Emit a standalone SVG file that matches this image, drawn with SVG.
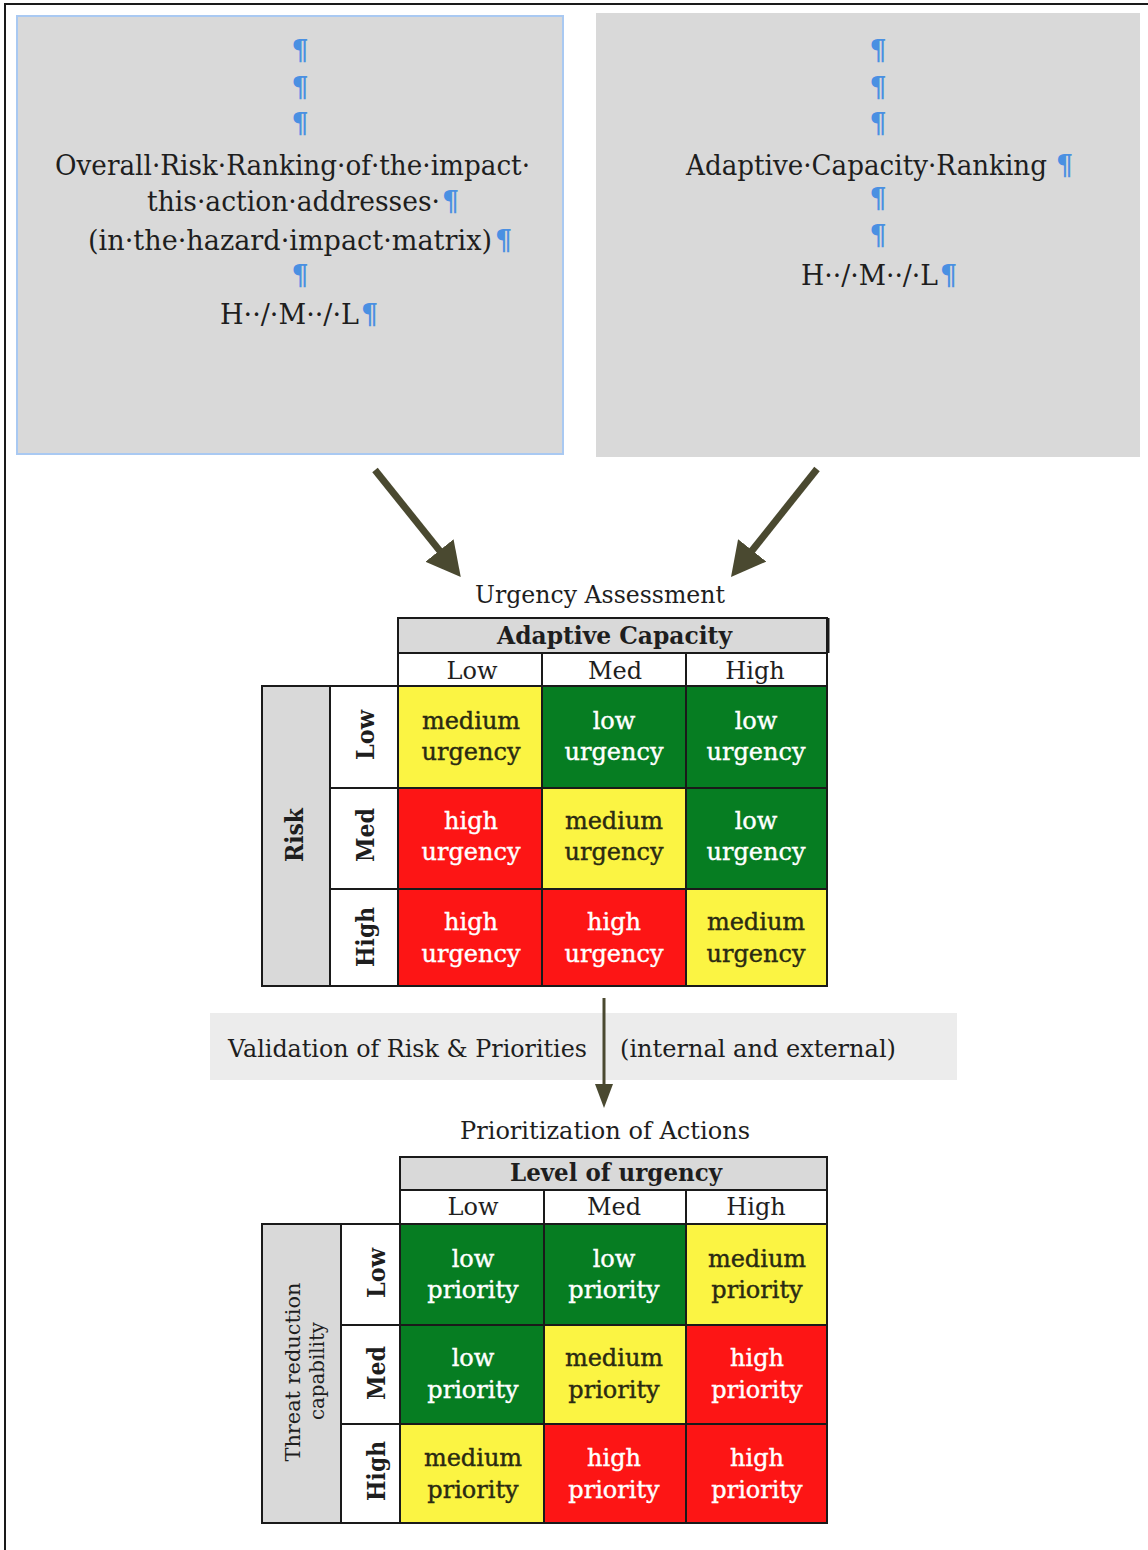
<svg xmlns="http://www.w3.org/2000/svg" width="1148" height="1550" viewBox="0 0 1148 1550">
<style>
.t{font-family:"DejaVu Serif","Liberation Serif",serif;fill:#1e1e1e}
.m{text-anchor:middle}
.pil{fill:#4a90e2;font-weight:bold}
.b{font-weight:bold}
.hd{fill:#d9d9d9;stroke:#1a1a1a;stroke-width:2}
.wh{fill:#fff;stroke:#1a1a1a;stroke-width:2}
.y{fill:#fbf443;stroke:#1a1a1a;stroke-width:2}
.g{fill:#067d22;stroke:#1a1a1a;stroke-width:2}
.r{fill:#fd1515;stroke:#1a1a1a;stroke-width:2}
.ct{font-family:"DejaVu Serif","Liberation Serif",serif;font-size:24px;text-anchor:middle;stroke-width:0.4}
.w{fill:#fff;stroke:#fff}
.d{fill:#2a2a12;stroke:#2a2a12}
.box{font-size:27px}
.arrow{stroke:#4a4930;fill:none}
</style>
<defs>
<marker id="bighead" markerUnits="userSpaceOnUse" viewBox="0 0 34 36" markerWidth="34" markerHeight="36" refX="4" refY="18" orient="auto">
<path d="M0,0 L34,18 L0,36 z" fill="#4a4930"/>
</marker>
<marker id="smallhead" markerUnits="userSpaceOnUse" viewBox="0 0 24 18" markerWidth="24" markerHeight="18" refX="2" refY="9" orient="auto">
<path d="M0,0 L24,9 L0,18 z" fill="#4a4930"/>
</marker>
</defs>
<rect x="0" y="0" width="1148" height="1550" fill="#fff"/>
<rect x="5" y="4" width="1170" height="1570" fill="none" stroke="#1a1a1a" stroke-width="2"/>

<g id="box-risk">
<rect x="17" y="16" width="546" height="438" fill="#d9d9d9" stroke="#a9c9f2" stroke-width="2"/>
<text class="t m box pil" x="300" y="60">¶</text>
<text class="t m box pil" x="300" y="97">¶</text>
<text class="t m box pil" x="300" y="133">¶</text>
<text class="t box" x="55" y="175" textLength="475" lengthAdjust="spacingAndGlyphs">Overall·Risk·Ranking·of·the·impact·</text>
<text class="t box" x="147" y="211" textLength="293" lengthAdjust="spacingAndGlyphs">this·action·addresses·</text>
<text class="t box pil" x="442" y="211">¶</text>
<text class="t box" x="88" y="250" textLength="404" lengthAdjust="spacingAndGlyphs">(in·the·hazard·impact·matrix)</text>
<text class="t box pil" x="495" y="250">¶</text>
<text class="t m box pil" x="300" y="285">¶</text>
<text class="t box" x="220" y="324" textLength="139" lengthAdjust="spacingAndGlyphs">H··/·M··/·L</text>
<text class="t box pil" x="361" y="324">¶</text>
</g>

<g id="box-adaptive">
<rect x="596" y="13" width="544" height="444" fill="#d9d9d9"/>
<text class="t m box pil" x="878" y="60">¶</text>
<text class="t m box pil" x="878" y="97">¶</text>
<text class="t m box pil" x="878" y="133">¶</text>
<text class="t box" x="686" y="175" textLength="361" lengthAdjust="spacingAndGlyphs">Adaptive·Capacity·Ranking</text>
<text class="t box pil" x="1056" y="175">¶</text>
<text class="t m box pil" x="878" y="208">¶</text>
<text class="t m box pil" x="878" y="245">¶</text>
<text class="t box" x="801" y="285" textLength="137" lengthAdjust="spacingAndGlyphs">H··/·M··/·L</text>
<text class="t box pil" x="940" y="285">¶</text>
</g>

<g id="label-urgency">
<text class="t" x="475" y="603" font-size="25" textLength="250" lengthAdjust="spacingAndGlyphs">Urgency Assessment</text>
</g>

<g id="table-urgency">
<rect class="hd" x="398" y="618" width="429" height="35"/>
<line x1="828" y1="618" x2="828" y2="653" stroke="#1a1a1a" stroke-width="3"/>
<text class="t b" x="497" y="644" font-size="25" textLength="235" lengthAdjust="spacingAndGlyphs">Adaptive Capacity</text>
<rect class="wh" x="398" y="653" width="144" height="33"/>
<rect class="wh" x="542" y="653" width="144" height="33"/>
<rect class="wh" x="686" y="653" width="141" height="33"/>
<text class="t m" x="472" y="679" font-size="24">Low</text>
<text class="t m" x="615" y="679" font-size="24">Med</text>
<text class="t m" x="755" y="679" font-size="24">High</text>
<rect class="hd" x="262" y="686" width="68" height="300"/>
<text class="t b m" transform="translate(0,835) rotate(-90)" x="0" y="303" font-size="24" textLength="54" lengthAdjust="spacingAndGlyphs">Risk</text>
<rect class="wh" x="330" y="686" width="68" height="102"/>
<rect class="wh" x="330" y="788" width="68" height="101"/>
<rect class="wh" x="330" y="889" width="68" height="97"/>
<text class="t b m" transform="translate(0,735) rotate(-90)" x="0" y="374" font-size="25" textLength="50" lengthAdjust="spacingAndGlyphs">Low</text>
<text class="t b m" transform="translate(0,835) rotate(-90)" x="0" y="374" font-size="25" textLength="54" lengthAdjust="spacingAndGlyphs">Med</text>
<text class="t b m" transform="translate(0,937) rotate(-90)" x="0" y="374" font-size="25" textLength="60" lengthAdjust="spacingAndGlyphs">High</text>
<rect class="y" x="398" y="686" width="144" height="102"/>
<rect class="g" x="542" y="686" width="144" height="102"/>
<rect class="g" x="686" y="686" width="141" height="102"/>
<rect class="r" x="398" y="788" width="144" height="101"/>
<rect class="y" x="542" y="788" width="144" height="101"/>
<rect class="g" x="686" y="788" width="141" height="101"/>
<rect class="r" x="398" y="889" width="144" height="97"/>
<rect class="r" x="542" y="889" width="144" height="97"/>
<rect class="y" x="686" y="889" width="141" height="97"/>
<text class="ct d" x="471" y="729">medium</text><text class="ct d" x="471" y="760">urgency</text>
<text class="ct w" x="614" y="729">low</text><text class="ct w" x="614" y="760">urgency</text>
<text class="ct w" x="756" y="729">low</text><text class="ct w" x="756" y="760">urgency</text>
<text class="ct w" x="471" y="829">high</text><text class="ct w" x="471" y="860">urgency</text>
<text class="ct d" x="614" y="829">medium</text><text class="ct d" x="614" y="860">urgency</text>
<text class="ct w" x="756" y="829">low</text><text class="ct w" x="756" y="860">urgency</text>
<text class="ct w" x="471" y="930">high</text><text class="ct w" x="471" y="962">urgency</text>
<text class="ct w" x="614" y="930">high</text><text class="ct w" x="614" y="962">urgency</text>
<text class="ct d" x="756" y="930">medium</text><text class="ct d" x="756" y="962">urgency</text>
</g>

<g id="band-validation">
<rect x="210" y="1013" width="747" height="67" fill="#ececec"/>
<text class="t" x="228" y="1057" font-size="25" textLength="359" lengthAdjust="spacingAndGlyphs">Validation of Risk &amp; Priorities</text>
<text class="t" x="620" y="1057" font-size="25" textLength="276" lengthAdjust="spacingAndGlyphs">(internal and external)</text>
</g>

<g id="label-prioritization">
<text class="t" x="460" y="1139" font-size="25" textLength="290" lengthAdjust="spacingAndGlyphs">Prioritization of Actions</text>
</g>

<g id="table-priority">
<rect class="hd" x="400" y="1157" width="427" height="33"/>
<text class="t b" x="510" y="1181" font-size="25" textLength="212" lengthAdjust="spacingAndGlyphs">Level of urgency</text>
<rect class="wh" x="400" y="1190" width="144" height="34"/>
<rect class="wh" x="544" y="1190" width="142" height="34"/>
<rect class="wh" x="686" y="1190" width="141" height="34"/>
<text class="t m" x="473" y="1215" font-size="24">Low</text>
<text class="t m" x="614" y="1215" font-size="24">Med</text>
<text class="t m" x="756" y="1215" font-size="24">High</text>
<rect class="hd" x="262" y="1224" width="79" height="299"/>
<text class="t m" transform="translate(0,1372) rotate(-90)" x="0" y="300" font-size="21" fill="#3a3a3a" textLength="179" lengthAdjust="spacingAndGlyphs">Threat reduction</text>
<text class="t m" transform="translate(0,1371) rotate(-90)" x="0" y="324" font-size="21" fill="#3a3a3a" textLength="98" lengthAdjust="spacingAndGlyphs">capability</text>
<rect class="wh" x="341" y="1224" width="59" height="101"/>
<rect class="wh" x="341" y="1325" width="59" height="99"/>
<rect class="wh" x="341" y="1424" width="59" height="99"/>
<text class="t b m" transform="translate(0,1273) rotate(-90)" x="0" y="385" font-size="25" textLength="50" lengthAdjust="spacingAndGlyphs">Low</text>
<text class="t b m" transform="translate(0,1373) rotate(-90)" x="0" y="385" font-size="25" textLength="54" lengthAdjust="spacingAndGlyphs">Med</text>
<text class="t b m" transform="translate(0,1471) rotate(-90)" x="0" y="385" font-size="25" textLength="60" lengthAdjust="spacingAndGlyphs">High</text>
<rect class="g" x="400" y="1224" width="144" height="101"/>
<rect class="g" x="544" y="1224" width="142" height="101"/>
<rect class="y" x="686" y="1224" width="141" height="101"/>
<rect class="g" x="400" y="1325" width="144" height="99"/>
<rect class="y" x="544" y="1325" width="142" height="99"/>
<rect class="r" x="686" y="1325" width="141" height="99"/>
<rect class="y" x="400" y="1424" width="144" height="99"/>
<rect class="r" x="544" y="1424" width="142" height="99"/>
<rect class="r" x="686" y="1424" width="141" height="99"/>
<text class="ct w" x="473" y="1267">low</text><text class="ct w" x="473" y="1298">priority</text>
<text class="ct w" x="614" y="1267">low</text><text class="ct w" x="614" y="1298">priority</text>
<text class="ct d" x="757" y="1267">medium</text><text class="ct d" x="757" y="1298">priority</text>
<text class="ct w" x="473" y="1366">low</text><text class="ct w" x="473" y="1398">priority</text>
<text class="ct d" x="614" y="1366">medium</text><text class="ct d" x="614" y="1398">priority</text>
<text class="ct w" x="757" y="1366">high</text><text class="ct w" x="757" y="1398">priority</text>
<text class="ct d" x="473" y="1466">medium</text><text class="ct d" x="473" y="1498">priority</text>
<text class="ct w" x="614" y="1466">high</text><text class="ct w" x="614" y="1498">priority</text>
<text class="ct w" x="757" y="1466">high</text><text class="ct w" x="757" y="1498">priority</text>
</g>

<g id="connectors">
<line class="arrow" x1="375" y1="470" x2="442" y2="553.6" stroke-width="7" marker-end="url(#bighead)"/>
<line class="arrow" x1="817" y1="469" x2="749.7" y2="553.5" stroke-width="7" marker-end="url(#bighead)"/>
<line class="arrow" x1="604" y1="998" x2="604" y2="1086" stroke-width="3" marker-end="url(#smallhead)"/>
</g>
</svg>
